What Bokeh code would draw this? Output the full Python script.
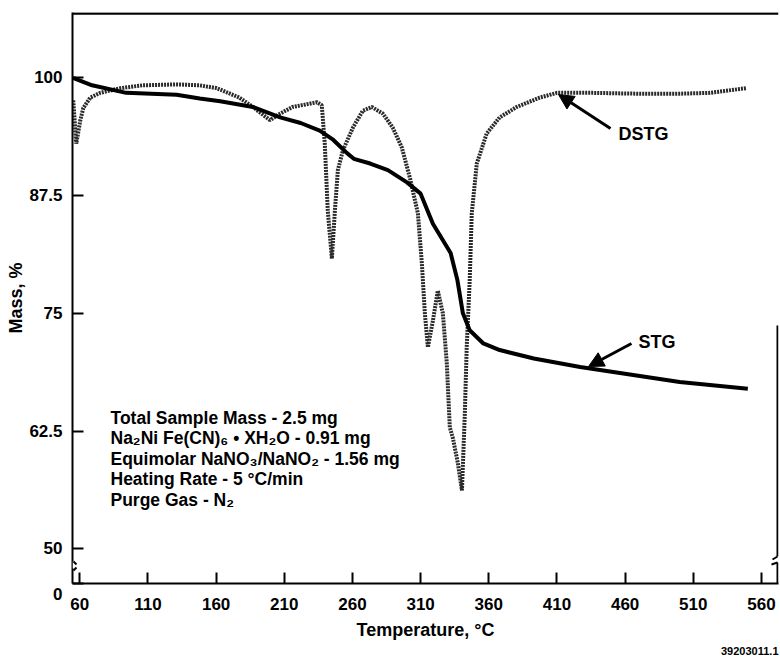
from bokeh.plotting import figure
from bokeh.models import Range1d, FixedTicker, Label, Arrow, NormalHead, BoxAnnotation, Title
from bokeh.embed import file_html
from bokeh.resources import INLINE

# ---------------- data ----------------
stg_temp = [55, 69, 94, 131, 148, 163, 187, 207, 222, 236, 246, 256, 261, 273, 286,
            300, 310, 319, 332, 337, 341, 346, 356, 368, 393, 427, 500, 550]
stg_mass = [100.0, 99.2, 98.4, 98.2, 97.8, 97.5, 96.9, 95.8, 95.2, 94.4, 93.4, 92.0, 91.4, 90.9, 90.2,
            88.9, 87.7, 84.5, 81.4, 78.5, 75.0, 73.2, 71.8, 71.1, 70.2, 69.3, 67.7, 67.0]

dstg_temp = [55.2, 57.4, 60.4, 62.6, 67.7, 75, 89.7, 106, 131, 148, 160.5, 177, 187, 199.5, 207,
             216, 234, 237.5, 239.7, 241.9, 244.9, 247.1, 249.3, 253, 260.3, 267.6, 274.2, 282.3,
             289.6, 296.2, 302.1, 308, 310.9, 313.1, 315.3, 319, 322.6, 326.3, 329.2, 331.4, 333.6,
             337.3, 340.3, 342.4, 343.8, 346, 347.5, 351.2, 358.5, 368, 380.5, 397.4, 410, 436,
             473, 498, 522, 549]
dstg_mass = [97.6, 93.0, 95.5, 96.8, 97.9, 98.4, 98.9, 99.2, 99.3, 99.2, 98.9, 97.9, 96.9, 95.5, 96.2,
             96.9, 97.4, 97.1, 93.0, 85.9, 80.8, 85.9, 90.2, 92.3, 94.7, 96.5, 96.9, 96.2,
             94.7, 92.6, 89.4, 85.6, 80.3, 75.0, 71.4, 74.2, 77.4, 75.0, 69.7, 62.9, 61.8,
             59.1, 56.2, 64.3, 71.4, 78.5, 85.6, 90.9, 94.1, 95.8, 96.9, 97.9, 98.4, 98.4,
             98.3, 98.3, 98.4, 98.9]

x_ticks = [60, 110, 160, 210, 260, 310, 360, 410, 460, 510, 560]
y_ticks = [50, 62.5, 75, 87.5, 100]
y_tick_labels = ["50", "62.5", "75", "87.5", "100"]
y_zero_label = "0"   # shown at the broken bottom of the mass axis

info_lines = [
    "Total Sample Mass - 2.5 mg",
    "Na\u2082Ni Fe(CN)\u2086 \u2022 XH\u2082O - 0.91 mg",
    "Equimolar NaNO\u2083/NaNO\u2082 - 1.56 mg",
    "Heating Rate - 5 \u00b0C/min",
    "Purge Gas - N\u2082",
]

# ---------------- layout helpers ----------------
X0, X1 = 54.65, 572.5
Y0, Y1 = 46.32, 106.93
LEFT, TOP, RIGHT, BOTTOM = 72, 12, 1, 80
FW, FH = 706, 571
H = TOP + FH + BOTTOM


def px2x(px):
    return X0 + (px - LEFT) / FW * (X1 - X0)


def py2y(py):
    return Y1 - (py - TOP) / FH * (Y1 - Y0)


FONT = "Liberation Sans"

p = figure(width=LEFT + FW + RIGHT, height=H,
           x_range=Range1d(X0, X1), y_range=Range1d(Y0, Y1),
           output_backend="svg", toolbar_location=None,
           min_border_left=LEFT, min_border_right=RIGHT,
           min_border_top=TOP, min_border_bottom=BOTTOM)
p.outline_line_color = None
p.background_fill_color = "white"
p.border_fill_color = "white"
p.xgrid.visible = False
p.ygrid.visible = False

for ax in (p.xaxis[0], p.yaxis[0]):
    ax.axis_line_width = 2
    ax.axis_line_color = "black"
    ax.major_tick_in = 11
    ax.major_tick_out = 0
    ax.major_tick_line_width = 2
    ax.minor_tick_line_color = None
    ax.major_label_text_font = FONT
    ax.major_label_text_font_style = "bold"
    ax.major_label_text_font_size = "17px"
    ax.major_label_text_color = "black"
    ax.axis_label_text_font = FONT
    ax.axis_label_text_font_style = "bold"
    ax.axis_label_text_font_size = "18px"
    ax.axis_label_text_color = "black"

p.xaxis.ticker = FixedTicker(ticks=x_ticks)
p.yaxis.ticker = FixedTicker(ticks=[Y0] + y_ticks)
overrides = dict(zip(y_ticks, y_tick_labels))
overrides[Y0] = " \n" + y_zero_label
p.yaxis.major_label_overrides = overrides
p.yaxis.major_label_standoff = 10
p.xaxis.major_label_standoff = 14
p.xaxis.axis_label = "Temperature, \u00b0C"
p.xaxis.axis_label_standoff = 7
p.yaxis.axis_label = "Mass, %"
p.yaxis.axis_label_standoff = 0

p.add_layout(Title(text="39203011.1", align="right", text_font=FONT, text_font_style="bold",
                   text_font_size="11px", text_color="black", standoff=4), "below")

# ---------------- curves ----------------
p.line(dstg_temp, dstg_mass, line_width=4, line_dash="2 1", line_color="#2a2a2a")
p.line(stg_temp, stg_mass, line_width=4, line_color="black")


def seg(x0, y0, x1, y1, w=2):
    p.add_layout(Arrow(end=None, x_start=px2x(x0), y_start=py2y(y0),
                       x_end=px2x(x1), y_end=py2y(y1),
                       line_width=w, line_color="black", level="overlay"))


# frame decorations: top line, right line with break, axis breaks
seg(72, 13, 778, 13, 2.5)
seg(777, 325, 777, 556)
seg(777, 556, 772, 559)
seg(771, 564, 777, 562)
seg(777, 562, 777, 583)

p.add_layout(BoxAnnotation(left=px2x(72), right=px2x(76), top=py2y(561), bottom=py2y(568),
                           fill_color="white", fill_alpha=1, line_color=None, level="overlay"))
seg(73, 561, 76, 564)
seg(73, 570, 76, 567)

# ---------------- arrows ----------------
p.add_layout(Arrow(end=NormalHead(size=15, fill_color="black", line_color="black"),
                   x_start=px2x(610), y_start=py2y(128), x_end=px2x(558), y_end=py2y(94),
                   line_width=3, line_color="black"))
p.add_layout(Arrow(end=NormalHead(size=15, fill_color="black", line_color="black"),
                   x_start=px2x(631), y_start=py2y(343), x_end=px2x(588), y_end=py2y(366),
                   line_width=3, line_color="black"))


def lab(text, px, py, size, align="left"):
    p.add_layout(Label(x=px2x(px), y=py2y(py), text=text, text_font=FONT,
                       text_font_style="bold", text_font_size=size, text_color="black",
                       text_align=align, text_baseline="middle"))


lab("DSTG", 618, 133, "18px")
lab("STG", 638, 341, "18px")

for i, t in enumerate(info_lines):
    lab(t, 110, 417 + i * 20.5, "17.5px")

open("out.html", "w").write(file_html(p, INLINE))
